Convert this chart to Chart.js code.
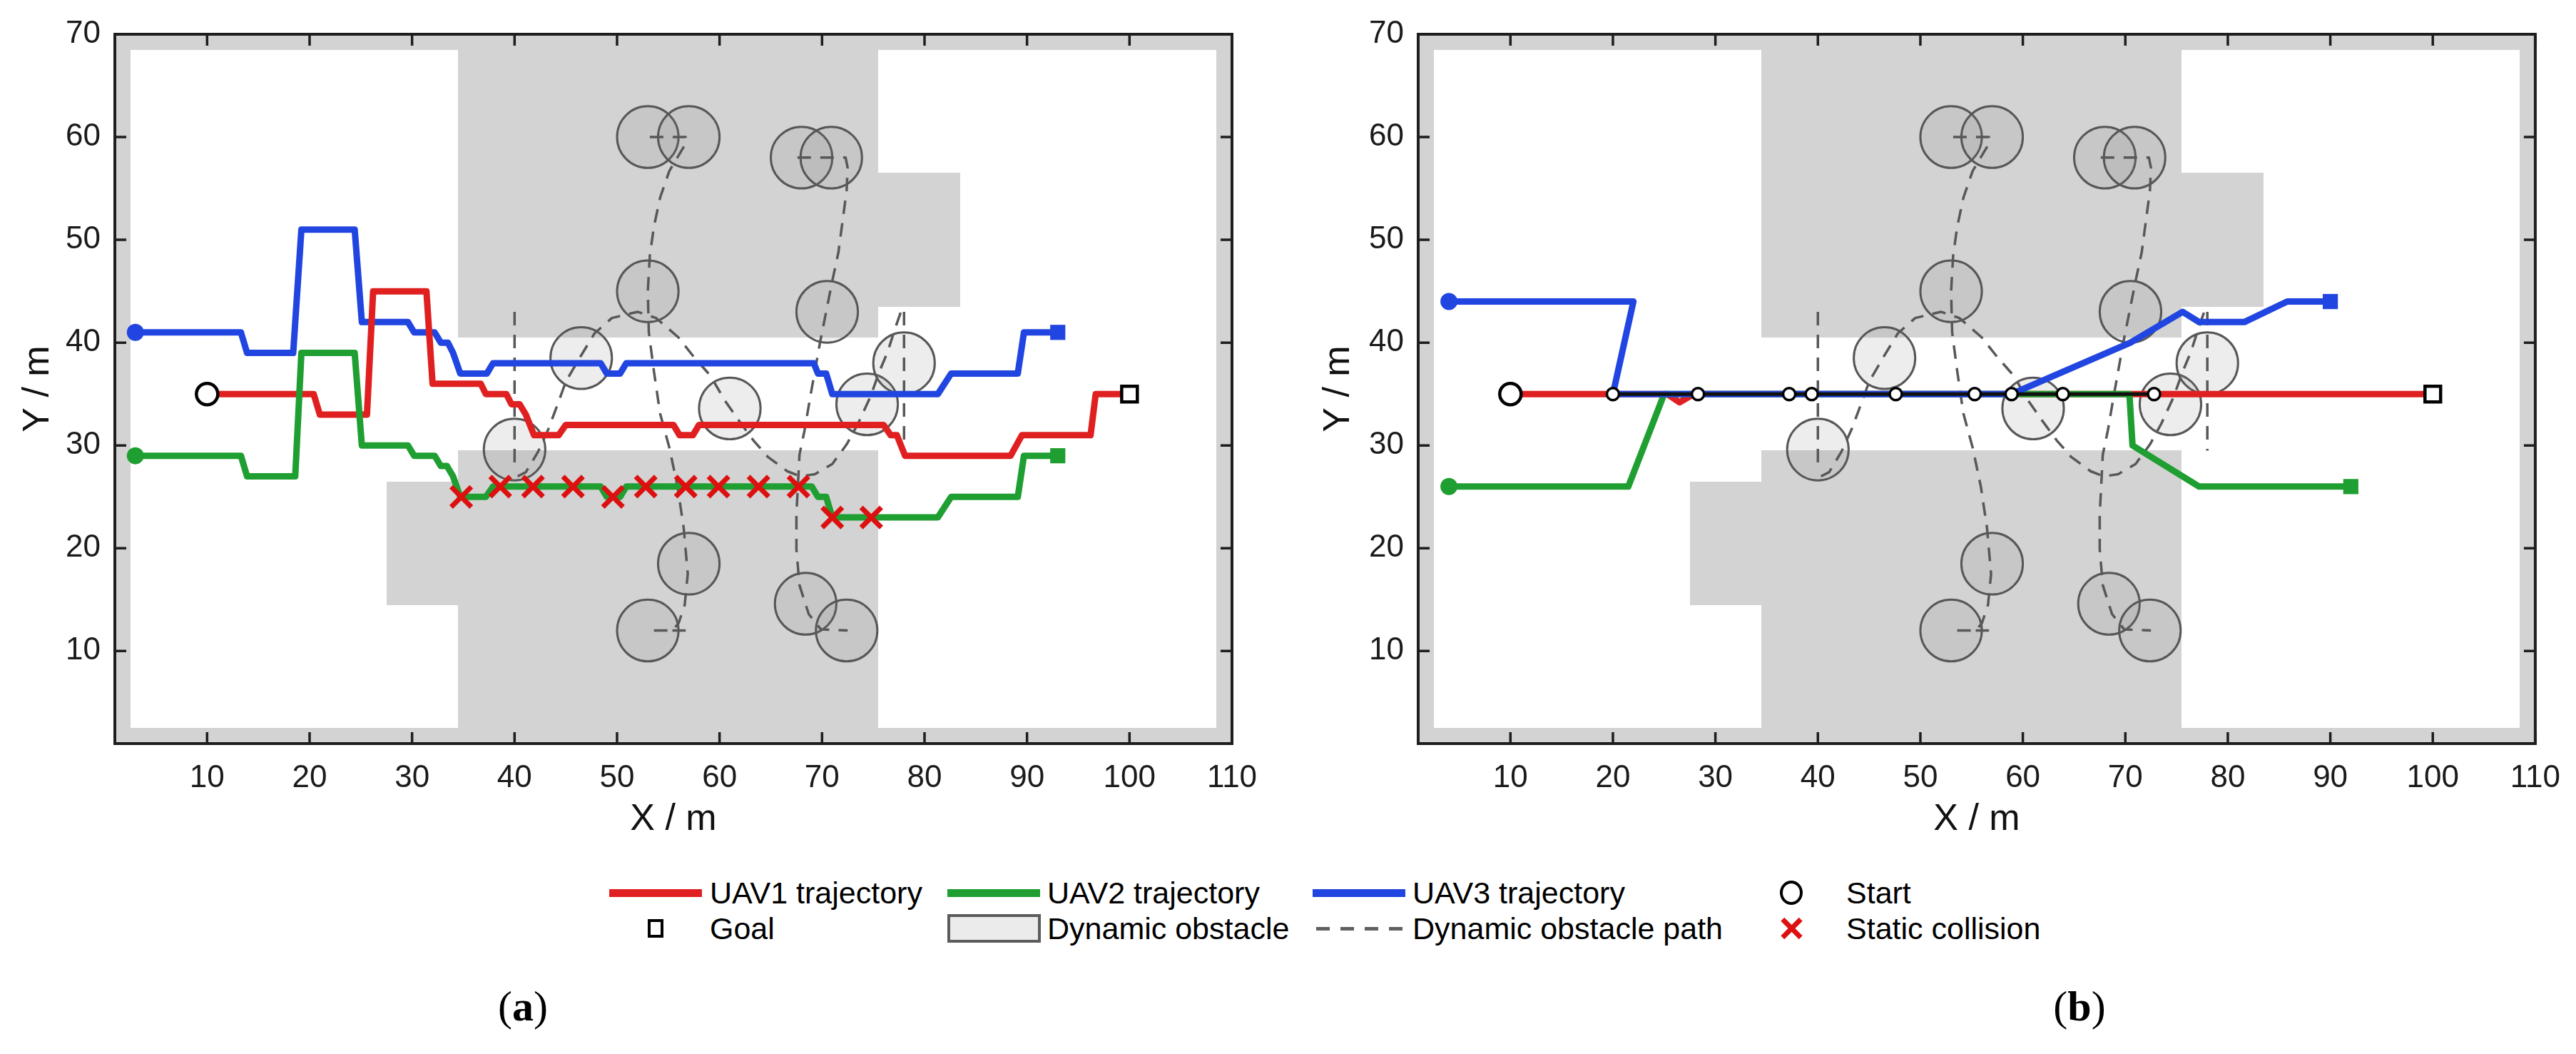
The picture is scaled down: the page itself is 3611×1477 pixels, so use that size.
<!DOCTYPE html>
<html>
<head>
<meta charset="utf-8">
<script src="https://cdn.jsdelivr.net/npm/chart.js@4.4.0/dist/chart.umd.min.js"></script>
<style>
  html, body { margin: 0; padding: 0; background: #fff; }
  body { width: 3611px; height: 1477px; position: relative; overflow: hidden;
         font-family: "Liberation Sans", Arial, sans-serif; }
  canvas { position: absolute; top: 0; }
  #chart-a { left: 0; width: 1805px; height: 1200px; }
  #chart-b { left: 1805px; width: 1806px; height: 1200px; }
  .leg-text { position: absolute; font-size: 43px; line-height: 1; color: #000;
              transform: translateY(-50%); white-space: nowrap; }
  .sw { position: absolute; box-sizing: border-box; }
  .sub { position: absolute; font-family: "Liberation Serif", "Times New Roman", serif;
         font-size: 60px; line-height: 1; transform: translate(-50%, -50%); }
</style>
</head>
<body>
<canvas id="chart-a" width="1805" height="1200"></canvas>
<canvas id="chart-b" width="1806" height="1200"></canvas>
<div id="legend"></div>
<div class="sub" style="left:733px; top:1410px">(<b>a</b>)</div>
<div class="sub" style="left:2915px; top:1410px">(<b>b</b>)</div>
<script>
// ---- axes ----
const xTicks = [10, 20, 30, 40, 50, 60, 70, 80, 90, 100, 110];
const yTicks = [10, 20, 30, 40, 50, 60, 70];

// ---- map (metres) ----
const mapFree = [2.5, 108.5, 2.5, 68.5];            // x0, x1, y0, y1 of the free area
const staticObstacles = [
  [34.5, 75.5, 40.5, 68.5],
  [75.5, 83.5, 43.5, 56.5],
  [34.5, 75.5, 2.5, 29.5],
  [27.5, 34.5, 14.5, 26.5]
];

// dynamic obstacles (same in both panels)
const obstacleX = [53, 57, 68, 70.9, 53, 70.5, 46.5, 40, 61, 74.4, 78, 57, 53, 68.4, 72.4];
const obstacleY = [60, 60, 58, 58, 45, 43, 38.5, 29.6, 33.6, 34, 38, 18.5, 12, 14.6, 12];
const obstacleRadius = 3;

const obstaclePathA = [[40, 43], [40, 27.5]];
const obstaclePathB = [[40.3, 27], [41.1, 27.4], [42.3, 29.4], [43.3, 31.6], [44.2, 34.0], [45.0, 36.2],
  [46.4, 38.6], [47.8, 40.9], [49.5, 42.4], [52.0, 43.0], [53.8, 42.4], [56.0, 40.5], [57.5, 38.6],
  [59.1, 36.8], [60.5, 34.4], [61.9, 32.4], [63.3, 30.5], [64.7, 28.9], [66.6, 27.5], [67.9, 27.0],
  [69.3, 27.2], [71.0, 28.2], [72.4, 30.1], [73.5, 32.1], [74.7, 34.7], [75.6, 37.2], [76.4, 39.1],
  [77.2, 41.6], [77.7, 43.0]];
const obstaclePathC = [[53.2, 60], [56.7, 60], [56.6, 59.2], [55.1, 56.7], [54.2, 54.1], [53.6, 51.3],
  [53.2, 48.5], [53.0, 45], [53.1, 41], [53.6, 37.2], [54.2, 33.1], [55.1, 29.8], [55.9, 26],
  [56.5, 22], [56.9, 17.5], [56.6, 14.5], [56.0, 12.7], [55.4, 12.0], [53.3, 12.0]];
const obstaclePathCEnd = [[55.4, 12.0], [56.7, 12.0]];
const obstaclePathD = [[67.6, 58], [72.3, 58], [72.5, 57], [72.4, 54.8], [72.0, 51.8], [71.6, 48.8],
  [71.0, 46.0], [70.4, 43.0], [69.8, 40.0], [68.9, 35.0], [68.3, 31.5], [67.8, 29.1], [67.5, 23.3],
  [67.5, 19.9], [67.8, 16.4], [68.7, 13.6], [69.9, 12.1], [72.5, 12]];
const obstaclePathE = [[78, 43], [78, 29.5]];

// ---- panel (a) ----
const uav1AX = [10, 20.4, 21, 25.6, 26.2, 31.4, 32, 36.7, 37.2, 39.2, 39.7, 40.5, 41.1, 41.9, 44.3, 45,
  55.5, 56.1, 57.4, 58, 76, 76.7, 77.3, 78.1, 88.4, 89.5, 96.2, 96.7, 100];
const uav1AY = [35, 35, 33, 33, 45, 45, 36, 36, 35, 35, 34, 34, 33, 31, 31, 32,
  32, 31, 31, 32, 32, 31, 31, 29, 29, 31, 31, 35, 35];
const uav2AX = [3, 13.3, 13.9, 18.6, 19.2, 24.4, 25.1, 29.6, 30.2, 32.2, 32.8, 33.4, 34, 34.7, 37.2,
  37.9, 48.4, 49, 50.3, 50.9, 69, 69.6, 70.4, 71, 81.3, 82.6, 89.1, 89.7, 93];
const uav2AY = [29, 29, 27, 27, 39, 39, 30, 30, 29, 29, 28, 28, 27, 25, 25,
  26, 26, 25, 25, 26, 26, 25, 25, 23, 23, 25, 25, 29, 29];
const uav3AX = [3, 13.3, 13.9, 18.4, 19.2, 24.4, 25.1, 29.6, 30.2, 32.2, 32.8, 33.5, 34, 34.7, 37.3,
  37.9, 48.4, 49, 50.3, 50.9, 69.2, 69.6, 70.4, 71, 81.3, 82.6, 89.1, 89.7, 93];
const uav3AY = [41, 41, 39, 39, 51, 51, 42, 42, 41, 41, 40, 40, 39, 37, 37,
  38, 38, 37, 37, 38, 38, 37, 37, 35, 35, 37, 37, 41, 41];
const collisionX = [34.8, 38.6, 41.8, 45.7, 49.6, 52.8, 56.7, 59.9, 63.8, 67.7, 71, 74.8];
const collisionY = [25, 26, 26, 26, 25, 26, 26, 26, 26, 26, 23, 23];

// ---- panel (b) ----
const uav1BX = [10, 25.3, 26.5, 27.9, 100];
const uav1BY = [35, 35, 34.2, 35, 35];
const uav2BX = [4, 21.5, 25, 70.4, 70.7, 77.2, 92];
const uav2BY = [26, 26, 35, 35, 30, 26, 26];
const uav3BX = [4, 22, 20, 58.9, 70.5, 75.6, 77.2, 81.6, 85.8, 90];
const uav3BY = [44, 44, 35, 35, 40, 43, 42, 42, 44, 44];
const sharedX = [20, 72.8];
const sharedY = [35, 35];
const waypointX = [20, 28.3, 37.2, 39.4, 47.6, 55.3, 58.9, 63.9, 72.8];
const waypointY = [35, 35, 35, 35, 35, 35, 35, 35, 35];

const RED = '#e02020';
const GREEN = '#1f9e31';
const BLUE = '#2145e0';
const CROSS = '#dd1010';
const FONT = '"Liberation Sans", Arial, sans-serif';

function pts(xs, ys) {
  return xs.map((x, i) => ({ x, y: ys[i] }));
}
function pairs(list) {
  return list.map(p => ({ x: p[0], y: p[1] }));
}

function lineSet(data, color, width, order, dash) {
  return {
    data, showLine: true, order,
    borderColor: color, backgroundColor: color, borderWidth: width,
    borderDash: dash || [], borderJoinStyle: 'round', borderCapStyle: dash ? 'butt' : 'round',
    pointRadius: 0, pointHoverRadius: 0, tension: 0
  };
}
function markerSet(data, style, radius, fill, stroke, strokeWidth, order) {
  return {
    data, showLine: false, order,
    pointStyle: style, pointRadius: radius, pointHoverRadius: radius,
    pointBackgroundColor: fill, pointBorderColor: stroke, pointBorderWidth: strokeWidth
  };
}

function obstaclePathSets() {
  const dash = [19, 13];
  return [obstaclePathA, obstaclePathB, obstaclePathC, obstaclePathCEnd, obstaclePathD, obstaclePathE]
    .map(p => lineSet(pairs(p), '#585858', 3.5, 20, dash));
}

// grey map, static blocks, dynamic obstacles; frame and inward ticks on top
const mapPlugin = {
  id: 'mapLayer',
  beforeDatasetsDraw(chart) {
    const { ctx, chartArea: a, scales: { x, y } } = chart;
    ctx.save();
    ctx.fillStyle = '#d3d3d3';
    ctx.fillRect(a.left, a.top, a.right - a.left, a.bottom - a.top);
    const rect = (r, color) => {
      const x0 = Math.round(x.getPixelForValue(r[0])), x1 = Math.round(x.getPixelForValue(r[1]));
      const y0 = Math.round(y.getPixelForValue(r[2])), y1 = Math.round(y.getPixelForValue(r[3]));
      ctx.fillStyle = color;
      ctx.fillRect(x0, y1, x1 - x0, y0 - y1);
    };
    rect(mapFree, '#ffffff');
    staticObstacles.forEach(r => rect(r, '#d3d3d3'));
    obstacleX.forEach((ox, i) => {
      const oy = obstacleY[i];
      const cx = x.getPixelForValue(ox), cy = y.getPixelForValue(oy);
      const rx = x.getPixelForValue(ox + obstacleRadius) - cx;
      const ry = cy - y.getPixelForValue(oy + obstacleRadius);
      ctx.beginPath();
      ctx.ellipse(cx, cy, rx, ry, 0, 0, Math.PI * 2);
      ctx.fillStyle = 'rgba(128,128,128,0.14)';
      ctx.fill();
      ctx.lineWidth = 3;
      ctx.strokeStyle = '#575757';
      ctx.stroke();
    });
    ctx.restore();
  },
  afterDraw(chart) {
    const { ctx, chartArea: a, scales: { x, y } } = chart;
    const len = 16;
    ctx.save();
    ctx.strokeStyle = '#1e1e1e';
    ctx.lineWidth = 3.5;
    ctx.beginPath();
    xTicks.forEach(v => {
      const px = x.getPixelForValue(v);
      ctx.moveTo(px, a.bottom); ctx.lineTo(px, a.bottom - len);
      ctx.moveTo(px, a.top); ctx.lineTo(px, a.top + len);
    });
    yTicks.forEach(v => {
      const py = y.getPixelForValue(v);
      ctx.moveTo(a.left, py); ctx.lineTo(a.left + len, py);
      ctx.moveTo(a.right, py); ctx.lineTo(a.right - len, py);
    });
    ctx.stroke();
    ctx.lineWidth = 4;
    ctx.strokeRect(a.left, a.top, a.right - a.left, a.bottom - a.top);
    ctx.restore();
  }
};

function makeChart(id, datasets, yAxisWidth, padRight, yTitlePad) {
  return new Chart(document.getElementById(id), {
    type: 'scatter',
    data: { datasets },
    plugins: [mapPlugin],
    options: {
      responsive: false,
      devicePixelRatio: 1,
      animation: false,
      events: [],
      layout: { padding: { left: 0, right: padRight, top: 48, bottom: 0 } },
      plugins: { legend: { display: false }, tooltip: { enabled: false } },
      scales: {
        x: {
          type: 'linear', min: 1, max: 110,
          afterBuildTicks: s => { s.ticks = xTicks.map(v => ({ value: v })); },
          afterFit: s => { s.height = 158; },
          grid: { display: false, drawTicks: false },
          border: { display: false },
          ticks: { font: { family: FONT, size: 44 }, color: '#1a1a1a', padding: 22,
                   maxRotation: 0, autoSkip: false },
          title: { display: true, text: 'X / m', color: '#111',
                   font: { family: FONT, size: 52 }, padding: { top: 0, bottom: 20 } }
        },
        y: {
          type: 'linear', min: 1, max: 70,
          afterBuildTicks: s => { s.ticks = yTicks.map(v => ({ value: v })); },
          afterFit: s => { s.width = yAxisWidth; },
          grid: { display: false, drawTicks: false },
          border: { display: false },
          ticks: { font: { family: FONT, size: 44 }, color: '#1a1a1a', padding: 20, autoSkip: false },
          title: { display: true, text: 'Y / m', color: '#111',
                   font: { family: FONT, size: 52 }, padding: { top: yTitlePad, bottom: 0 } }
        }
      }
    }
  });
}

// panel (a)
makeChart('chart-a', [
  ...obstaclePathSets(),
  lineSet(pts(uav3AX, uav3AY), BLUE, 9, 12),
  lineSet(pts(uav1AX, uav1AY), RED, 9, 11),
  lineSet(pts(uav2AX, uav2AY), GREEN, 9, 10),
  markerSet(pts([uav3AX[0]], [uav3AY[0]]), 'circle', 12, BLUE, BLUE, 0, 5),
  markerSet(pts([uav2AX[0]], [uav2AY[0]]), 'circle', 12, GREEN, GREEN, 0, 5),
  markerSet(pts([uav3AX[uav3AX.length - 1]], [uav3AY[uav3AY.length - 1]]), 'rect', 15, BLUE, BLUE, 0, 5),
  markerSet(pts([uav2AX[uav2AX.length - 1]], [uav2AY[uav2AY.length - 1]]), 'rect', 15, GREEN, GREEN, 0, 5),
  markerSet(pts(collisionX, collisionY), 'crossRot', 20, CROSS, CROSS, 7, 3),
  markerSet(pts([uav1AX[0]], [uav1AY[0]]), 'circle', 15, '#fff', '#000', 4.5, 2),
  markerSet(pts([uav1AX[uav1AX.length - 1]], [uav1AY[uav1AY.length - 1]]), 'rect', 15.5, '#fff', '#000', 4.5, 2)
], 161, 78, 22);

// panel (b)
makeChart('chart-b', [
  ...obstaclePathSets(),
  lineSet(pts(uav1BX, uav1BY), RED, 9, 12),
  lineSet(pts(uav2BX, uav2BY), GREEN, 9, 11),
  lineSet(pts(uav3BX, uav3BY), BLUE, 9, 10),
  lineSet(pts(sharedX, sharedY), '#111', 5, 7),
  markerSet(pts(waypointX, waypointY), 'circle', 8.5, '#fff', '#000', 3.5, 6),
  markerSet(pts([uav3BX[0]], [uav3BY[0]]), 'circle', 12, BLUE, BLUE, 0, 5),
  markerSet(pts([uav2BX[0]], [uav2BY[0]]), 'circle', 12, GREEN, GREEN, 0, 5),
  markerSet(pts([uav3BX[uav3BX.length - 1]], [uav3BY[uav3BY.length - 1]]), 'rect', 15, BLUE, BLUE, 0, 5),
  markerSet(pts([uav2BX[uav2BX.length - 1]], [uav2BY[uav2BY.length - 1]]), 'rect', 15, GREEN, GREEN, 0, 5),
  markerSet(pts([uav1BX[0]], [uav1BY[0]]), 'circle', 15, '#fff', '#000', 4.5, 2),
  markerSet(pts([uav1BX[uav1BX.length - 1]], [uav1BY[uav1BY.length - 1]]), 'rect', 15.5, '#fff', '#000', 4.5, 2)
], 183, 57, 40);

// ---- legend (HTML, two rows x four columns) ----
const legendLabels = ['UAV1 trajectory', 'UAV2 trajectory', 'UAV3 trajectory', 'Start',
                      'Goal', 'Dynamic obstacle', 'Dynamic obstacle path', 'Static collision'];
const legendKinds = ['line', 'line', 'line', 'start', 'goal', 'patch', 'dash', 'cross'];
const legendColors = [RED, GREEN, BLUE, null, null, null, null, CROSS];

const rowsY = [1251, 1301];
const swatchCenters = [919, 1393, 1905, 2511];
const textLefts = [995, 1468, 1980, 2588];
const legend = document.getElementById('legend');

function place(el, cx, cy, w, h) {
  el.style.left = (cx - w / 2) + 'px';
  el.style.top = (cy - h / 2) + 'px';
  el.style.width = w + 'px';
  el.style.height = h + 'px';
  legend.appendChild(el);
}

legendLabels.forEach((label, i) => {
  const cy = rowsY[Math.floor(i / 4)];
  const cx = swatchCenters[i % 4];
  const kind = legendKinds[i];
  const sw = document.createElement('div');
  sw.className = 'sw';
  if (kind === 'line') {
    sw.style.background = legendColors[i];
    place(sw, cx, cy, 130, 11);
  } else if (kind === 'start') {
    sw.style.border = '4.5px solid #000';
    sw.style.borderRadius = '50%';
    sw.style.background = '#fff';
    place(sw, cx, cy, 32, 34);
  } else if (kind === 'goal') {
    sw.style.border = '4.5px solid #000';
    sw.style.background = '#fff';
    place(sw, cx, cy, 22, 26);
  } else if (kind === 'patch') {
    sw.style.border = '4px solid #5c5c5c';
    sw.style.background = '#ebebeb';
    place(sw, cx, cy, 131, 40);
  } else if (kind === 'dash') {
    sw.style.background = 'repeating-linear-gradient(to right, #606060 0 19px, transparent 19px 34px)';
    place(sw, cx, cy, 121, 5);
  } else if (kind === 'cross') {
    [45, -45].forEach(a => {
      const bar = document.createElement('div');
      bar.className = 'sw';
      bar.style.background = legendColors[i];
      bar.style.transform = 'rotate(' + a + 'deg)';
      place(bar, cx, cy, 7, 36);
    });
  }
  const t = document.createElement('div');
  t.className = 'leg-text';
  t.textContent = label;
  t.style.left = textLefts[i % 4] + 'px';
  t.style.top = cy + 'px';
  legend.appendChild(t);
});
</script>
</body>
</html>
